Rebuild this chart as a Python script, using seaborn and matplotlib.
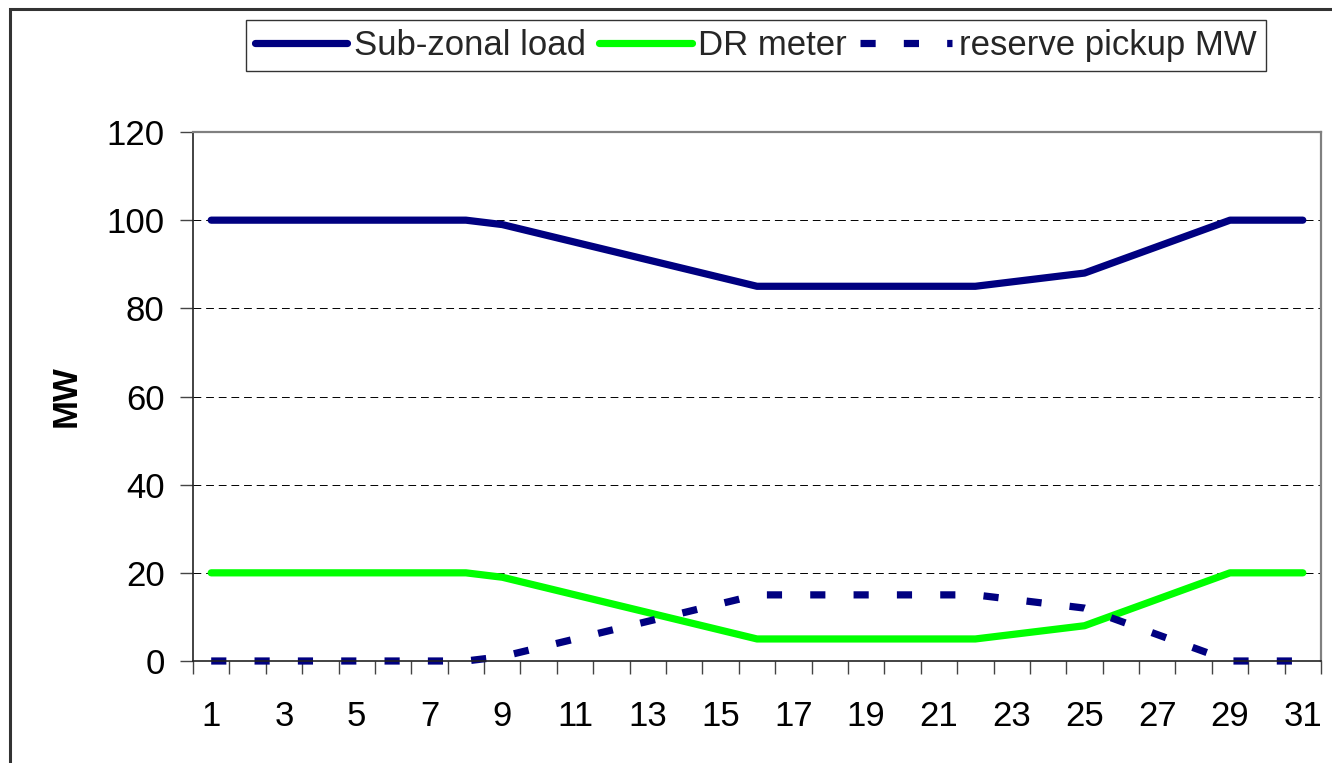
import numpy as np
import pandas as pd
import seaborn as sns
import matplotlib
import matplotlib.pyplot as plt
from matplotlib.patches import Rectangle
matplotlib.use("Agg")

# hourly values
hours = list(range(1, 32))
sub_zonal_load = [100, 100, 100, 100, 100, 100, 100, 100, 99, 97, 95, 93, 91, 89, 87, 85,
                  85, 85, 85, 85, 85, 85, 86, 87, 88, 91, 94, 97, 100, 100, 100]
dr_meter = [20, 20, 20, 20, 20, 20, 20, 20, 19, 17, 15, 13, 11, 9, 7, 5,
            5, 5, 5, 5, 5, 5, 6, 7, 8, 11, 14, 17, 20, 20, 20]
reserve_pickup = [0, 0, 0, 0, 0, 0, 0, 0, 1, 3, 5, 7, 9, 11, 13, 15,
                  15, 15, 15, 15, 15, 15, 14, 13, 12, 9, 6, 3, 0, 0, 0]
y_ticks = [0, 20, 40, 60, 80, 100, 120]

df = pd.DataFrame({"hour": hours, "load": sub_zonal_load,
                   "dr": dr_meter, "reserve": reserve_pickup})

sns.set_theme(style="white")
plt.rcParams["font.family"] = ["Liberation Sans", "DejaVu Sans"]

W, H = 1332, 763
fig = plt.figure(figsize=(W / 100, H / 100), dpi=100)
ax = fig.add_axes([193 / W, 1 - 661 / H, (1321 - 193) / W, (661 - 132) / H])

navy = "#000080"
green = "#00ff00"
fs = 25
lw = 5.2

sns.lineplot(data=df, x="hour", y="load", ax=ax, color=navy, lw=lw,
             solid_capstyle="round", label="Sub-zonal load")
sns.lineplot(data=df, x="hour", y="dr", ax=ax, color=green, lw=lw,
             solid_capstyle="round", label="DR meter")
sns.lineplot(data=df, x="hour", y="reserve", ax=ax, color=navy, lw=lw,
             linestyle=(0, (2.1, 3.9)), dash_capstyle="butt", clip_on=False,
             label="reserve pickup MW")
ax.get_legend().remove()

ax.set_xlim(0.5, 31.5)
ax.set_ylim(0, 120)
ax.set_yticks(y_ticks)
ax.set_xticks(hours[::2])
ax.set_xticks(np.arange(0.5, 32, 1), minor=True)
ax.tick_params(axis="x", which="major", length=0, pad=28, labelsize=fs, labelcolor="black")
ax.tick_params(axis="x", which="minor", length=9, width=1, color="#444444", direction="out", bottom=True)
ax.tick_params(axis="y", which="major", length=9.4, width=1, color="#444444", direction="out",
               left=True, pad=11, labelsize=fs, labelcolor="black")

ax.set_xlabel("")
ax.set_ylabel("MW", fontsize=fs, fontweight="bold", color="black")
ax.yaxis.set_label_coords(-0.0975, 0.5)

# dashed horizontal gridlines
ax.set_axisbelow(True)
ax.yaxis.grid(True, color="black", lw=0.7, linestyle=(0, (8, 5)))
ax.xaxis.grid(False)

for side in ["left", "bottom"]:
    ax.spines[side].set_color("#222222")
    ax.spines[side].set_linewidth(1.2)
for side in ["top", "right"]:
    ax.spines[side].set_color("#808080")
    ax.spines[side].set_linewidth(1.6)

handles, labels = ax.get_legend_handles_labels()
leg = fig.legend(handles, labels, loc="center", ncol=3,
                 bbox_to_anchor=(756 / W, 1 - 45.4 / H), fontsize=fs,
                 frameon=True, fancybox=False, shadow=False, framealpha=1,
                 edgecolor="#333333", handlelength=2.66, handletextpad=0.2,
                 columnspacing=0.37, borderpad=0.25, borderaxespad=0)
leg.get_frame().set_linewidth(1.0)

# outer chart border (cut off at the right and bottom)
fig.patches.append(Rectangle((9.5 / W, -0.05), 1.2, 1.05 - 9 / H, transform=fig.transFigure,
                             fill=False, edgecolor="#333333", lw=2.2))

fig.savefig("out.png", dpi=100)
